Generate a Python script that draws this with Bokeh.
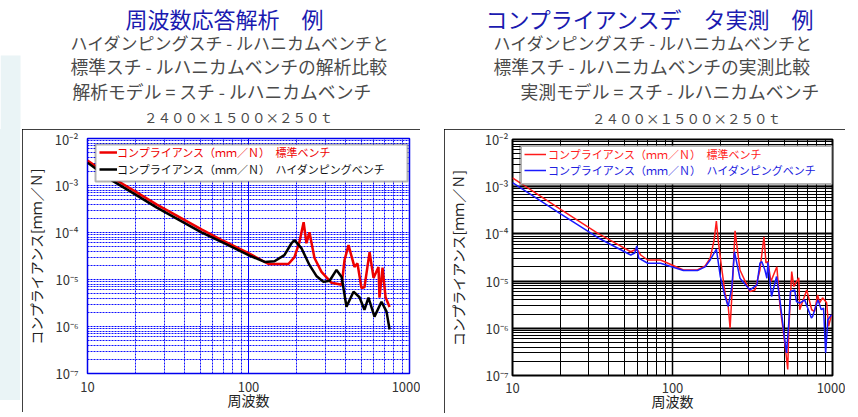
from bokeh.plotting import figure
from bokeh.models import (Range1d, FixedTicker, CustomJSTickFormatter, Legend, LegendItem,
                          BoxAnnotation, Label, Spacer)
from bokeh.core.properties import value
from bokeh.layouts import row, column
from bokeh.embed import file_html
from bokeh.resources import INLINE

FONT = "Noto Sans CJK JP"

# ---------------- data ----------------
# Left panel: analysis (周波数応答解析)
left_std_freq = [10, 14.5, 20, 26.8, 51, 70, 100, 120, 133, 177, 193, 207, 220, 229, 239, 257,
                 284, 328, 379, 395, 418, 455, 475, 503, 525, 565, 598, 642, 651, 680, 710, 752]
left_std_comp = [3.4e-3, 1.41e-3, 7.3e-4, 3.97e-4, 1.17e-4, 6.6e-5, 3.65e-5, 2.6e-5, 2.14e-5, 2.14e-5,
                 3.0e-5, 6.2e-5, 1.65e-4, 5.9e-5, 1.01e-4, 2.86e-5, 1.45e-5, 8.5e-6, 7.7e-6, 2.6e-5,
                 5.4e-5, 1.85e-5, 2.2e-5, 6.6e-6, 6.8e-6, 3.8e-5, 1.08e-5, 1.85e-5, 4.1e-6, 1.8e-5,
                 4.2e-6, 2.6e-6]
left_hd_freq = [10, 14.5, 20, 26.8, 51, 70, 100, 126, 145, 167, 185, 193, 213, 239, 264, 292, 319,
                352, 379, 406, 449, 489, 525, 556, 606, 670, 720, 752]
left_hd_comp = [3.06e-3, 1.22e-3, 6.3e-4, 3.43e-4, 1.01e-4, 6.0e-5, 3.31e-5, 2.36e-5, 2.45e-5, 3.3e-5,
                5.9e-5, 6.9e-5, 4.66e-5, 2.04e-5, 1.19e-5, 8.9e-6, 9.4e-6, 1.6e-5, 1.13e-5, 2.64e-6,
                5.5e-6, 4.2e-6, 2.27e-6, 4.1e-6, 1.62e-6, 3.36e-6, 2.07e-6, 8.6e-7]

# Right panel: measurement (コンプライアンスデータ実測)
right_std_freq = [10, 20.1, 34.2, 47.5, 54.8, 59.8, 63.3, 70, 84.2, 117, 143, 160, 172, 182, 188, 193,
                  201, 213, 223, 229, 236, 246, 264, 305, 328, 352, 373, 384, 395, 412, 449, 469, 503,
                  525, 533, 556, 573, 615, 624, 690, 741, 773, 807, 830, 867, 919, 945, 986]
right_std_comp = [1.53e-3, 3.27e-4, 1.03e-4, 5.53e-5, 4.19e-5, 4.78e-5, 3.57e-5, 2.8e-5, 2.8e-5, 1.72e-5,
                  1.72e-5, 2.1e-5, 3.08e-5, 7.4e-5, 1.86e-4, 7.4e-5, 2.42e-5, 5.56e-6, 2.9e-6, 1.01e-6,
                  6.5e-6, 1.16e-4, 1.72e-5, 6.0e-6, 6.5e-6, 1.72e-5, 8.7e-5, 2.42e-5, 2.58e-5, 9.8e-6,
                  2.02e-5, 3.15e-6, 4.97e-7, 1.34e-7, 9.3e-7, 1.59e-5, 7.66e-6, 1.17e-5, 2.47e-6, 6.5e-6,
                  2.47e-6, 2.27e-6, 5.1e-6, 3.47e-6, 4.42e-6, 3.47e-6, 1.1e-6, 1.94e-6]
right_hd_freq = [10, 20.1, 34.2, 54.8, 58.1, 59.8, 61.5, 70, 84.2, 117, 143, 160, 172, 188, 199, 213,
                 223, 235, 244, 264, 305, 337, 352, 362, 378, 389, 395, 416, 447, 469, 503, 516, 533,
                 546, 580, 595, 624, 670, 738, 751, 811, 851, 879, 906, 935, 986]
right_hd_comp = [1.22e-3, 2.63e-4, 8.3e-5, 3.57e-5, 3.94e-5, 5.53e-5, 3.08e-5, 2.39e-5, 2.39e-5, 1.67e-5,
                 1.67e-5, 2.0e-5, 2.8e-5, 4.78e-5, 1.24e-5, 4.71e-6, 2.9e-6, 7.66e-6, 4.19e-5, 1.15e-5,
                 6.5e-6, 8.3e-6, 2.4e-5, 2.58e-5, 1.72e-5, 1.15e-5, 2.5e-5, 4.71e-6, 1.25e-5, 4.0e-6,
                 5.7e-7, 3.0e-7, 1.29e-6, 6.0e-6, 6.5e-6, 3.7e-6, 3.42e-6, 4.0e-6, 1.65e-6, 1.78e-6,
                 4.0e-6, 2.47e-6, 2.68e-6, 3.0e-7, 1.52e-6, 1.94e-6]

x_ticks = [10, 100, 1000]
x_tick_labels = ["10", "100", "1000"]
y_ticks = [1e-7, 1e-6, 1e-5, 1e-4, 1e-3, 1e-2]
y_tick_labels = ["10⁻⁷", "10⁻⁶", "10⁻⁵", "10⁻⁴", "10⁻³", "10⁻²"]

x_label = "周波数"
y_label = "コンプライアンス[ｍｍ／Ｎ]"
legend_std = "コンプライアンス（ｍｍ／Ｎ）　標準ベンチ"
legend_hd = "コンプライアンス（ｍｍ／Ｎ）　ハイダンピングベンチ"

header_left = ["周波数応答解析　例",
               "ハイダンピングスチ - ルハニカムベンチと",
               "標準スチ - ルハニカムベンチの解析比較",
               "解析モデル = スチ - ルハニカムベンチ",
               "２４００×１５００×２５０ｔ"]
header_right = ["コンプライアンスデ　タ実測　例",
                "ハイダンピングスチ - ルハニカムベンチと",
                "標準スチ - ルハニカムベンチの実測比較",
                "実測モデル = スチ - ルハニカムベンチ",
                "２４００×１５００×２５０ｔ"]

HEADER_H = 129
STRIP = "#eaf4f6"


def minor_of(ticks):
    return [m * t for t in ticks[:-1] for m in range(2, 10)]


def formatter(ticks, labels):
    return CustomJSTickFormatter(args=dict(tv=ticks, tl=labels), code="""
        for (let i = 0; i < tv.length; i++) {
            if (Math.abs(Math.log10(tick) - Math.log10(tv[i])) < 1e-6) return tl[i];
        }
        return "";
    """)


def blank(width, height, y_top, y_bottom, fill="white"):
    # a plain canvas whose data coordinates are pixel coordinates of the page
    p = figure(width=width, height=height, x_range=Range1d(0, width), y_range=Range1d(y_bottom, y_top),
               output_backend="svg", toolbar_location=None, x_axis_location=None, y_axis_location=None,
               min_border=0)
    p.grid.visible = False
    p.outline_line_color = None
    p.background_fill_color = fill
    p.border_fill_color = fill
    return p


def make_header(width, texts, specs, strip=False):
    h = blank(width, HEADER_H, 0, HEADER_H)
    if strip:
        h.quad(left=[0], right=[20], top=[55], bottom=[HEADER_H + 10], fill_color=STRIP, line_color=None)
    for t, (x, y, size, color, align) in zip(texts, specs):
        h.add_layout(Label(x=x, y=y, text=t, text_font=FONT, text_font_size=size, text_color=color,
                           text_align=align, text_baseline="middle"))
    return h


def make_panel(width, height, bl, br, bt, bb, ylab_standoff, ytick_standoff, xlab_standoff, xtick_standoff):
    p = figure(width=width, height=height, x_axis_type="log", y_axis_type="log",
               x_range=Range1d(10, 1000), y_range=Range1d(1e-7, 1e-2),
               output_backend="svg", toolbar_location=None,
               min_border_left=bl, min_border_right=br, min_border_top=bt, min_border_bottom=bb,
               styles={"outline": "2px solid black", "outline-offset": "-2px"})
    p.xaxis.ticker = FixedTicker(ticks=x_ticks, minor_ticks=minor_of(x_ticks))
    p.yaxis.ticker = FixedTicker(ticks=y_ticks, minor_ticks=minor_of(y_ticks))
    p.xaxis.formatter = formatter(x_ticks, x_tick_labels)
    p.yaxis.formatter = formatter(y_ticks, y_tick_labels)
    for ax in (p.xaxis[0], p.yaxis[0]):
        ax.axis_line_color = None
        ax.major_tick_line_color = None
        ax.minor_tick_line_color = None
        ax.major_tick_out = 0
        ax.major_tick_in = 0
        ax.minor_tick_out = 0
        ax.minor_tick_in = 0
        ax.major_label_text_font = FONT
        ax.major_label_text_font_size = "13px"
        ax.major_label_text_color = "#333333"
        ax.axis_label_text_font = FONT
        ax.axis_label_text_font_style = "normal"
        ax.axis_label_text_color = "#222222"
    p.xaxis.axis_label = x_label
    p.xaxis.axis_label_text_font_size = "14px"
    p.xaxis.major_label_standoff = xtick_standoff
    p.xaxis.axis_label_standoff = xlab_standoff
    p.yaxis.axis_label = y_label
    p.yaxis.axis_label_text_font_size = "14px"
    p.yaxis.major_label_standoff = ytick_standoff
    p.yaxis.axis_label_standoff = ylab_standoff
    p.background_fill_color = "white"
    p.border_fill_color = "white"
    return p


def add_legend(p, box, entries, glyph_w, standoff):
    l, r, b, t, lw = box
    p.add_layout(BoxAnnotation(left=l, right=r, bottom=b, top=t,
                               left_units="screen", right_units="screen",
                               bottom_units="screen", top_units="screen",
                               fill_color="white", fill_alpha=1.0,
                               line_color="black", line_width=lw))
    for label, rend, color, (lx, ly) in entries:
        leg = Legend(items=[LegendItem(label=value(label), renderers=[rend])],
                     location=(lx, ly), padding=0, margin=0, spacing=0,
                     glyph_width=glyph_w, glyph_height=12, label_height=12,
                     label_standoff=standoff, border_line_color=None,
                     background_fill_alpha=0.0,
                     label_text_font=FONT, label_text_font_size="11px",
                     label_text_color=color)
        p.add_layout(leg)


# ---------------- left panel ----------------
hdr1 = make_header(438, header_left, [
    (224, 17, "22px", "#1a1ab0", "center"),
    (70, 42, "17px", "#4a4a4a", "left"),
    (70, 65, "17.8px", "#4a4a4a", "left"),
    (72, 90, "17.8px", "#4a4a4a", "left"),
    (238, 116, "13.5px", "#4a4a4a", "center"),
], strip=True)

strip1 = column(Spacer(width=20, height=271, styles={"background-color": STRIP}),
                Spacer(width=20, height=12))

p1 = make_panel(398, 283, 64, 11, 9, 38, ylab_standoff=6, ytick_standoff=9,
                xlab_standoff=-5, xtick_standoff=8)
p1.outline_line_color = "#0000ee"
p1.outline_line_width = 1.5
for g in (p1.xgrid[0], p1.ygrid[0]):
    g.grid_line_color = "#0000ff"
    g.grid_line_width = 1
    g.minor_grid_line_color = "#1010ff"
    g.minor_grid_line_width = 1
    g.minor_grid_line_dash = "2 1"
p1.ygrid[0].grid_line_dash = "2 1"

r1a = p1.line(left_std_freq, left_std_comp, line_color="#ee0000", line_width=2.5)
r1b = p1.line(left_hd_freq, left_hd_comp, line_color="#000000", line_width=2.5)

add_legend(p1, (8, 320, 192, 229, 2),
           [(legend_std, r1a, "#ee0000", (12, 213)),
            (legend_hd, r1b, "#111111", (12, 196))], glyph_w=18, standoff=0)

left_block = column(hdr1, row(strip1, Spacer(width=2, height=283), p1, Spacer(width=18, height=283)))

# ---------------- right panel ----------------
hdr2 = make_header(420, header_right, [
    (212, 17, "22px", "#1a1ab0", "center"),
    (55, 42, "17px", "#4a4a4a", "left"),
    (55, 65, "17.8px", "#4a4a4a", "left"),
    (82, 90, "17.8px", "#4a4a4a", "left"),
    (248, 117, "13.5px", "#4a4a4a", "center"),
])

p2 = make_panel(401, 284, 67, 13, 10, 38, ylab_standoff=14, ytick_standoff=4,
                xlab_standoff=-5, xtick_standoff=7)
p2.outline_line_color = "black"
p2.outline_line_width = 2
for g in (p2.xgrid[0], p2.ygrid[0]):
    g.grid_line_color = "black"
    g.minor_grid_line_color = "black"
    g.minor_grid_line_width = 1
p2.ygrid[0].grid_line_width = 2
p2.xgrid[0].grid_line_width = 1.5

r2a = p2.line(right_std_freq, right_std_comp, line_color="#ff1a1a", line_width=1.5)
r2b = p2.line(right_hd_freq, right_hd_comp, line_color="#1a1aff", line_width=1.5)

add_legend(p2, (8, 320, 191, 230, 3),
           [(legend_std, r2a, "#ff2020", (12, 213)),
            (legend_hd, r2b, "#2020e0", (12, 197))], glyph_w=22, standoff=2)

right_block = column(hdr2, row(Spacer(width=6, height=284), p2))

layout = row(left_block, right_block)
open("out.html", "w").write(file_html(layout, INLINE))
